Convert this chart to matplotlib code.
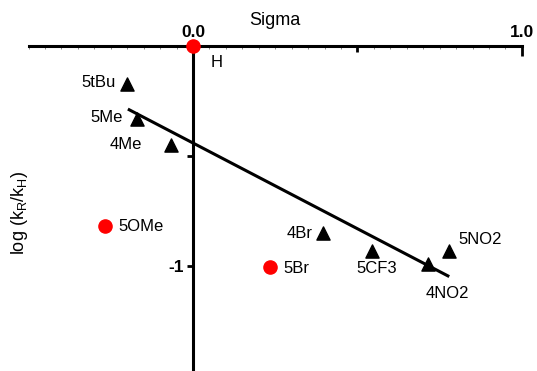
import matplotlib
matplotlib.use('Agg')
import matplotlib.pyplot as plt
import numpy as np

plt.rcParams['font.family'] = ['Liberation Sans', 'DejaVu Sans']

# substituent data: Hammett sigma vs log(kR/kH)
tri_names = ['5tBu', '5Me', '4Me', '4Br', '5CF3', '5NO2', '4NO2']
tri_sigma = [-0.20, -0.17, -0.067, 0.395, 0.544, 0.778, 0.714]
tri_logk = [-0.173, -0.33, -0.45, -0.85, -0.93, -0.93, -0.99]

dot_names = ['H', '5OMe', '5Br']
dot_sigma = [0.0, -0.267, 0.234]
dot_logk = [0.0, -0.82, -1.005]

# fitted line
slope = -0.779
intercept = -0.441
fit_range = [-0.194, 0.775]

# label offsets (points) and alignment
tri_offsets = [(-8.6, 1.4, 'right'), (-10, 0.7, 'right'), (-21, 0.7, 'right'),
               (-7.2, 0, 'right'), (3.6, -13, 'center'), (7.2, 8, 'left'),
               (14.4, -21, 'center')]
dot_offsets = [(13, -12, 'left'), (9.4, 0, 'left'), (9.4, -0.7, 'left')]


def main():
    fig = plt.figure(figsize=(5.37, 3.71), dpi=100)
    ax = fig.add_axes([0, 0, 1, 1])
    ax.set_xlim(-0.587, 1.046)
    ax.set_ylim(-1.477, 0.209)

    for s in ['right', 'bottom']:
        ax.spines[s].set_visible(False)
    ax.spines['top'].set_position(('data', 0))
    ax.spines['top'].set_bounds(-0.5, 1.0)
    ax.spines['left'].set_position(('data', 0))
    ax.spines['left'].set_bounds(-1.477, 0)
    for s in ['top', 'left']:
        ax.spines[s].set_linewidth(2.2)

    ax.xaxis.tick_top()
    ax.set_xticks([0, 0.5, 1.0])
    ax.set_xticklabels(['0.0', '', '1.0'], fontweight='bold', fontsize=12.5)
    ax.set_xticks(np.arange(-0.5, 1.0001, 0.05), minor=True)
    ax.tick_params(axis='x', which='major', direction='in', length=4, width=2, pad=4)
    ax.tick_params(axis='x', which='minor', direction='in', length=2, width=0.5,
                   color='#555555')
    # longer end tick at 1.0
    ax.xaxis.get_major_ticks()[2].tick2line.set_markersize(7.5)

    ax.set_yticks([-0.5, -1])
    ax.set_yticklabels(['', '-1'], fontweight='bold', fontsize=12.5)
    ax.tick_params(axis='y', which='major', direction='out', length=4.5, width=2, pad=2)

    xs = np.array(fit_range)
    ax.plot(xs, slope * xs + intercept, color='black', lw=2.2, zorder=3)

    ax.scatter(tri_sigma, tri_logk, marker='^', s=90, color='black', zorder=4)
    ax.scatter(dot_sigma, dot_logk, marker='o', s=90, color='red', zorder=5, clip_on=False)

    for name, x, y, (dx, dy, ha) in zip(tri_names, tri_sigma, tri_logk, tri_offsets):
        ax.annotate(name, (x, y), xytext=(dx, dy), textcoords='offset points',
                    ha=ha, va='center', fontsize=12)
    for name, x, y, (dx, dy, ha) in zip(dot_names, dot_sigma, dot_logk, dot_offsets):
        ax.annotate(name, (x, y), xytext=(dx, dy), textcoords='offset points',
                    ha=ha, va='center', fontsize=12)

    ax.text(0.25, 0.114, 'Sigma', ha='center', va='center', fontsize=13)
    ax.text(-0.527, -0.76, r'log (k$_\mathregular{R}$/k$_\mathregular{H}$)',
            rotation=90, ha='center', va='center', fontsize=13)

    fig.savefig('out.png', dpi=100)


if __name__ == '__main__':
    main()
